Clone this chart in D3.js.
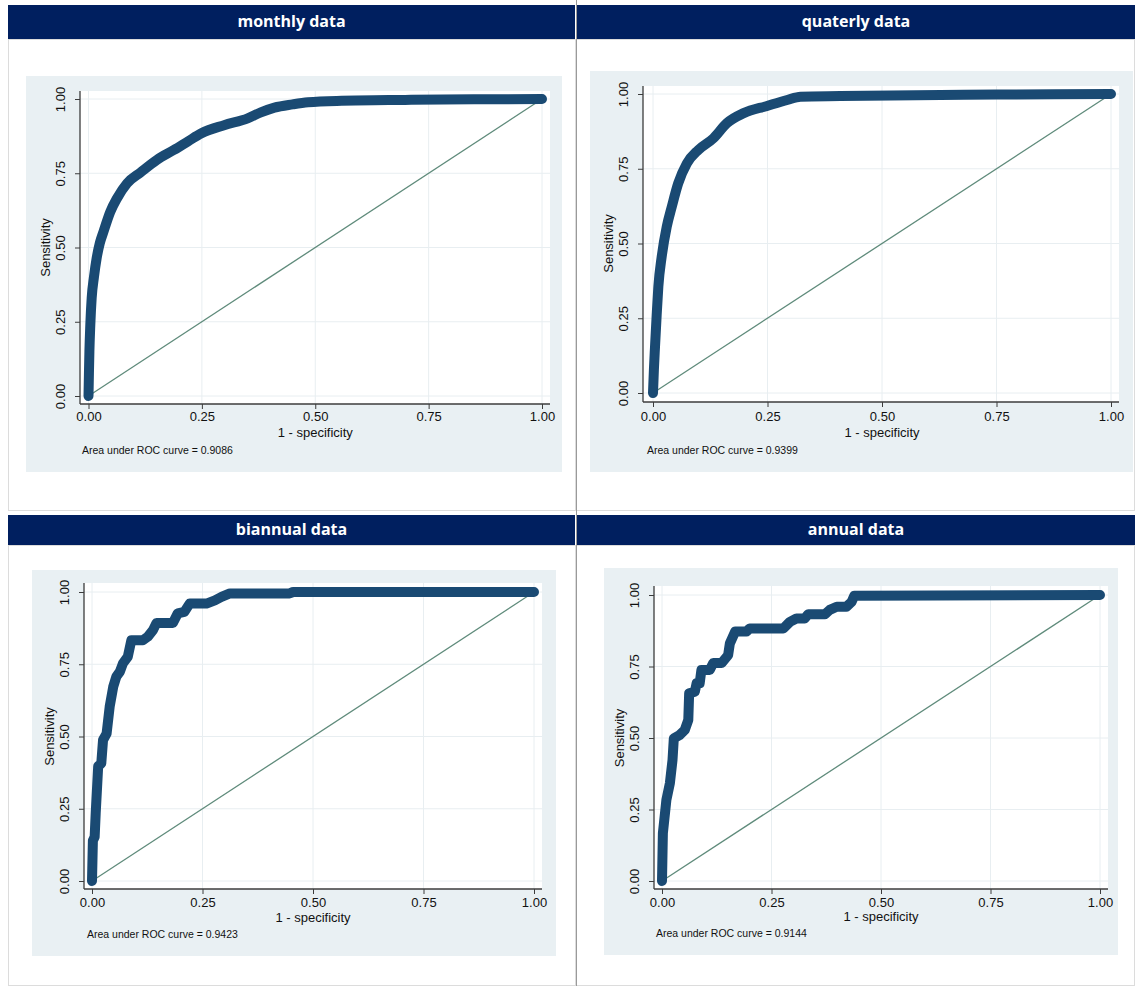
<!DOCTYPE html>
<html>
<head>
<meta charset="utf-8">
<script src="https://cdn.jsdelivr.net/npm/d3@7"></script>
<style>
  html, body { margin: 0; padding: 0; background: #ffffff; }
  svg { display: block; }
</style>
</head>
<body>
<svg id="chart" width="1135" height="986"></svg>
<script>
// ---------- DATA ----------
const panelTitles = ["monthly data", "quaterly data", "biannual data", "annual data"];
const aucLabels = ["0.9086", "0.9399", "0.9423", "0.9144"];
const tickValues = [0, 0.25, 0.5, 0.75, 1];
const xAxisTitle = "1 - specificity";
const yAxisTitle = "Sensitivity";

// [1 - specificity, sensitivity]
const monthlyROC = [
  [0, 0], [0.001, 0.08], [0.002, 0.15], [0.004, 0.24], [0.007, 0.33], [0.012, 0.40],
  [0.018, 0.464], [0.025, 0.515], [0.033, 0.553], [0.048, 0.62], [0.063, 0.666],
  [0.085, 0.716], [0.115, 0.753], [0.151, 0.795], [0.188, 0.828], [0.22, 0.858],
  [0.248, 0.884], [0.299, 0.912], [0.351, 0.935], [0.38, 0.955], [0.41, 0.971],
  [0.45, 0.982], [0.484, 0.989], [0.558, 0.994], [0.698, 0.997], [0.85, 0.999], [1, 1]
];
const quarterlyROC = [
  [0, 0], [0.002, 0.08], [0.0044, 0.155], [0.008, 0.26], [0.0117, 0.356], [0.019, 0.456],
  [0.03, 0.556], [0.041, 0.623], [0.055, 0.701], [0.074, 0.768], [0.099, 0.813],
  [0.132, 0.852], [0.161, 0.902], [0.198, 0.936], [0.249, 0.960], [0.293, 0.980],
  [0.322, 0.991], [0.409, 0.993], [0.628, 0.997], [0.75, 0.998], [1, 1]
];
const biannualROC = [
  [0, 0], [0.002, 0.14], [0.006, 0.153], [0.0084, 0.235], [0.014, 0.397], [0.021, 0.407],
  [0.025, 0.488], [0.033, 0.51], [0.040, 0.603], [0.048, 0.672], [0.055, 0.707],
  [0.063, 0.724], [0.07, 0.753], [0.081, 0.776], [0.089, 0.833], [0.115, 0.833],
  [0.126, 0.845], [0.138, 0.868], [0.146, 0.893], [0.183, 0.893], [0.194, 0.926],
  [0.209, 0.931], [0.221, 0.96], [0.259, 0.96], [0.278, 0.971], [0.293, 0.983],
  [0.312, 0.995], [0.447, 0.995], [0.455, 1.0], [1, 1]
];
const annualROC = [
  [0, 0], [0.002, 0.167], [0.01, 0.283], [0.018, 0.342], [0.024, 0.423], [0.027, 0.499],
  [0.04, 0.51], [0.052, 0.528], [0.06, 0.563], [0.062, 0.656], [0.075, 0.662],
  [0.079, 0.691], [0.086, 0.691], [0.09, 0.738], [0.109, 0.738], [0.117, 0.762],
  [0.136, 0.762], [0.151, 0.79], [0.155, 0.831], [0.167, 0.872], [0.193, 0.872],
  [0.2, 0.883], [0.277, 0.883], [0.292, 0.906], [0.307, 0.918], [0.326, 0.918],
  [0.334, 0.933], [0.372, 0.933], [0.383, 0.948], [0.399, 0.959], [0.421, 0.959],
  [0.433, 0.976], [0.439, 0.997], [1, 1]
];
const rocSeries = [monthlyROC, quarterlyROC, biannualROC, annualROC];
const smoothSeries = [true, true, false, false];

// ---------- LAYOUT ----------
const layouts = [
  { head: [8, 5, 575, 39], body: [8, 39, 576, 511],
    bg: [26, 76, 562, 472], plot: [80, 91, 550, 404], x: [88.5, 542], y: [396, 99],
    tickLab: 418, xTitle: 434, auc: [82, 451] },
  { head: [577, 5, 1135, 39], body: [576, 39, 1135, 511],
    bg: [590, 71, 1133, 472], plot: [643, 86, 1119, 402], x: [653, 1111], y: [393, 94],
    tickLab: 418, xTitle: 434, auc: [647, 451] },
  { head: [8, 515, 575, 545], body: [8, 545, 576, 986],
    bg: [32, 570, 556, 956], plot: [84, 583, 542, 889], x: [92, 534], y: [881, 592],
    tickLab: 904, xTitle: 919, auc: [87, 935] },
  { head: [577, 515, 1135, 545], body: [576, 545, 1135, 986],
    bg: [604, 568, 1118, 955], plot: [654, 586, 1108, 889], x: [662, 1100], y: [881, 595],
    tickLab: 904, xTitle: 918, auc: [656, 934] }
];

const svg = d3.select("#chart");
const fmt = d3.format(".2f");
const sans = "'Liberation Sans', Arial, sans-serif";

// panel borders
layouts.forEach(L => {
  const [x0, y0, x1, y1] = L.body;
  svg.append("rect").attr("x", x0 + 0.5).attr("y", y0 + 0.5)
    .attr("width", x1 - x0 - 1).attr("height", y1 - y0 - 1)
    .attr("fill", "#ffffff").attr("stroke", "#dcdcdc");
});
svg.append("line").attr("x1", 576.5).attr("x2", 576.5).attr("y1", 0).attr("y2", 986)
  .attr("stroke", "#9a9a9a").attr("stroke-width", 1);

layouts.forEach((L, i) => {
  const g = svg.append("g");
  // header
  const [hx0, hy0, hx1, hy1] = L.head;
  g.append("rect").attr("x", hx0).attr("y", hy0).attr("width", hx1 - hx0).attr("height", hy1 - hy0)
    .attr("fill", "#001f5f");
  g.append("text").attr("x", (hx0 + hx1) / 2).attr("y", (hy0 + hy1) / 2 + 1)
    .attr("text-anchor", "middle").attr("dominant-baseline", "middle")
    .attr("fill", "#ffffff").attr("font-family", "'Open Sans', 'DejaVu Sans', sans-serif")
    .attr("font-weight", 700).attr("font-size", 16).text(panelTitles[i]);

  // graph region background
  const [bx0, by0, bx1, by1] = L.bg;
  g.append("rect").attr("x", bx0).attr("y", by0).attr("width", bx1 - bx0).attr("height", by1 - by0)
    .attr("fill", "#e9f0f3");
  // plot region
  const [px0, py0, px1, py1] = L.plot;
  g.append("rect").attr("x", px0).attr("y", py0).attr("width", px1 - px0).attr("height", py1 - py0)
    .attr("fill", "#ffffff");

  const x = d3.scaleLinear().domain([0, 1]).range(L.x);
  const y = d3.scaleLinear().domain([0, 1]).range(L.y);

  // grid
  g.append("g").selectAll("line.v").data(tickValues).join("line")
    .attr("x1", d => x(d)).attr("x2", d => x(d)).attr("y1", py0).attr("y2", py1)
    .attr("stroke", "#e8eef1").attr("stroke-width", 1);
  g.append("g").selectAll("line.h").data(tickValues).join("line")
    .attr("x1", px0).attr("x2", px1).attr("y1", d => y(d)).attr("y2", d => y(d))
    .attr("stroke", "#e8eef1").attr("stroke-width", 1);

  // axes
  const xAxis = d3.axisBottom(x).tickValues(tickValues).tickFormat(fmt).tickSize(5).tickSizeOuter(0);
  const gx = g.append("g").attr("transform", `translate(0,${py1})`).call(xAxis);
  gx.select(".domain").attr("d", `M${px0},0H${px1}`).attr("stroke", "#3c3c3c").attr("stroke-width", 1.3);
  gx.selectAll(".tick line").attr("stroke", "#3c3c3c");
  gx.selectAll(".tick text").attr("font-family", sans).attr("font-size", 13).attr("fill", "#111")
    .attr("y", 0).attr("dy", 0).attr("dominant-baseline", "middle")
    .attr("transform", `translate(0,${L.tickLab - py1})`);

  const yAxis = d3.axisLeft(y).tickValues(tickValues).tickFormat(fmt).tickSize(5).tickSizeOuter(0);
  const gy = g.append("g").attr("transform", `translate(${px0},0)`).call(yAxis);
  gy.select(".domain").attr("d", `M0,${py0}V${py1}`).attr("stroke", "#3c3c3c").attr("stroke-width", 1.3);
  gy.selectAll(".tick line").attr("stroke", "#3c3c3c");
  gy.selectAll(".tick text").attr("font-family", sans).attr("font-size", 13).attr("fill", "#111")
    .attr("x", 0).attr("dy", 0).attr("text-anchor", "middle").attr("dominant-baseline", "middle")
    .attr("transform", "translate(-18,0) rotate(-90)");
  gx.select(".domain").raise();

  // titles
  g.append("text").attr("x", x(0.5)).attr("y", L.xTitle).attr("text-anchor", "middle")
    .attr("dominant-baseline", "middle").attr("font-family", sans).attr("font-size", 13)
    .attr("fill", "#111").text(xAxisTitle);
  g.append("text").attr("transform", `translate(${px0 - 33},${y(0.5)}) rotate(-90)`)
    .attr("text-anchor", "middle").attr("dominant-baseline", "middle")
    .attr("font-family", sans).attr("font-size", 13).attr("fill", "#111").text(yAxisTitle);
  g.append("text").attr("x", L.auc[0]).attr("y", L.auc[1]).attr("dominant-baseline", "middle")
    .attr("font-family", sans).attr("font-size", 10.5).attr("fill", "#111")
    .text("Area under ROC curve = " + aucLabels[i]);

  // reference diagonal
  g.append("line").attr("x1", x(0)).attr("y1", y(0)).attr("x2", x(1)).attr("y2", y(1))
    .attr("stroke", "#5f8b7b").attr("stroke-width", 1.3);

  // ROC curve
  const line = d3.line().x(d => x(d[0])).y(d => y(d[1]))
    .curve(smoothSeries[i] ? d3.curveMonotoneX : d3.curveLinear);
  g.append("path").datum(rocSeries[i]).attr("d", line)
    .attr("fill", "none").attr("stroke", "#1a4a73").attr("stroke-width", 10)
    .attr("stroke-linecap", "round").attr("stroke-linejoin", "round");
});
</script>
</body>
</html>
